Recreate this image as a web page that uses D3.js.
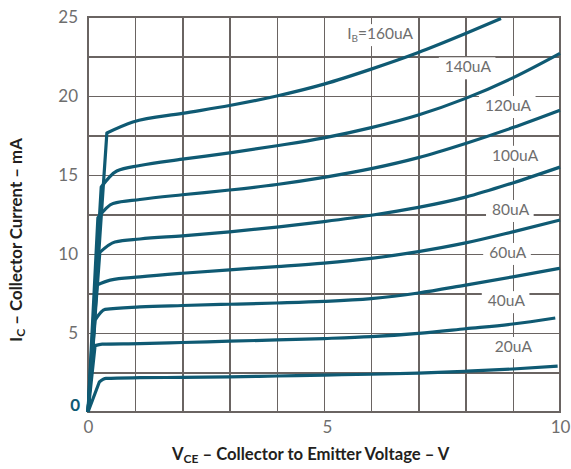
<!DOCTYPE html>
<html>
<head>
<meta charset="utf-8">
<script src="https://cdn.jsdelivr.net/npm/d3@7"></script>
<style>
  html, body { margin: 0; padding: 0; background: #fff; }
  svg { display: block; }
</style>
</head>
<body>
<div id="chart"></div>
<script>
// Collector characteristics: I_C versus V_CE for a family of base currents.
const xTicks = [0, 5, 10];
const yTicks = [5, 10, 15, 20, 25];
const baseLabels = ["20uA", "40uA", "60uA", "80uA", "100uA", "120uA", "140uA", "160uA"];

// Each curve: [V_CE (V), I_C (mA)] pairs, starting at the origin.
const ib20  = [[0,0],[0.24,1.9],[0.38,2.13],[1.1,2.17],[2,2.19],[3,2.22],[4,2.28],[5,2.34],[6,2.39],[7,2.46],[8,2.58],[9,2.72],[9.95,2.9]];
const ib40  = [[0,0],[0.15,4.2],[0.3,4.3],[1.1,4.33],[2,4.4],[3,4.48],[4,4.56],[5,4.65],[6,4.77],[7,4.98],[8,5.27],[9,5.57],[9.9,5.95]];
const ib60  = [[0,0],[0.15,5.82],[0.36,6.5],[1.1,6.65],[2,6.74],[3,6.82],[4,6.9],[5,7.0],[6,7.18],[7,7.53],[8,8.03],[9,8.55],[10,9.1]];
const ib80  = [[0,0],[0.19,8.04],[0.47,8.35],[1.1,8.55],[2,8.78],[3,9.0],[4,9.2],[5,9.42],[6,9.72],[7,10.15],[8,10.7],[9,11.4],[10,12.15]];
const ib100 = [[0,0],[0.25,10.1],[0.57,10.76],[1.1,10.95],[2,11.15],[3,11.4],[4,11.7],[5,12.05],[6,12.45],[7,12.95],[8,13.6],[9,14.5],[10,15.5]];
const ib120 = [[0,0],[0.21,12.3],[0.53,13.2],[1.1,13.45],[2,13.75],[3,14.05],[4,14.4],[5,14.85],[6,15.4],[7,16.1],[8,17.0],[9,18.0],[10,19.1]];
const ib140 = [[0,0],[0.28,14.24],[0.61,15.25],[1.1,15.6],[2,16.0],[3,16.4],[4,16.85],[5,17.35],[6,18.0],[7,18.8],[8,19.85],[9,21.15],[10,22.7]];
const ib160 = [[0,0],[0.40,17.66],[0.95,18.35],[2,18.9],[3,19.4],[4,20.0],[5,20.75],[6,21.7],[7,22.75],[8,23.95],[8.75,24.9]];
const curves = [ib20, ib40, ib60, ib80, ib100, ib120, ib140, ib160];

// Where each base-current label starts (data coordinates, text baseline).
const labelAnchors = [[8.62,3.8],[8.47,6.7],[8.5,9.75],[8.56,12.47],[8.56,15.9],[8.41,19.05],[7.56,21.5],[5.49,23.6]];

const W = 571, H = 469;
const plot = { left: 88, right: 560, top: 17, bottom: 412 };
const lineColor = "#0f5a73";
const gridColor = "#6a6462";
const tickColor = "#6e6e6e";
const titleColor = "#231f20";
const fontFamily = "Lato, 'Open Sans', sans-serif";

const svg = d3.select("#chart").append("svg")
  .attr("width", W).attr("height", H)
  .style("font-family", fontFamily);

const x = d3.scaleLinear().domain([0, 10]).range([plot.left, plot.right]);
const y = d3.scaleLinear().domain([0, 25]).range([plot.bottom, plot.top]);

// Grid: a line every volt and every 2.5 mA.
const grid = svg.append("g");
grid.append("g")
  .attr("transform", `translate(0,${plot.bottom})`)
  .call(d3.axisBottom(x).tickValues(d3.range(0, 11, 1)).tickSize(-(plot.bottom - plot.top)).tickFormat(""))
  .call(g => g.select(".domain").remove());
grid.append("g")
  .attr("transform", `translate(${plot.left},0)`)
  .call(d3.axisLeft(y).tickValues(d3.range(0, 25.01, 2.5)).tickSize(-(plot.right - plot.left)).tickFormat(""))
  .call(g => g.select(".domain").remove());
grid.selectAll(".tick line")
  .attr("stroke", gridColor).attr("stroke-width", 1.5).attr("shape-rendering", "crispEdges");
grid.append("rect")
  .attr("x", plot.left).attr("y", plot.top)
  .attr("width", plot.right - plot.left).attr("height", plot.bottom - plot.top)
  .attr("fill", "none").attr("stroke", gridColor).attr("stroke-width", 1.5)
  .attr("shape-rendering", "crispEdges");

// Tick labels
const xAxis = svg.append("g")
  .attr("transform", `translate(0,${plot.bottom})`)
  .call(d3.axisBottom(x).tickValues(xTicks).tickSize(0).tickPadding(9));
const yAxis = svg.append("g")
  .attr("transform", `translate(${plot.left},0)`)
  .call(d3.axisLeft(y).tickValues(yTicks).tickSize(0).tickPadding(10));
[xAxis, yAxis].forEach(g => {
  g.select(".domain").remove();
  g.selectAll("text").attr("fill", tickColor).style("font-size", "17px").style("font-family", fontFamily);
});
xAxis.selectAll(".tick").filter(d => d === 5).select("text").attr("dx", 3);

// Origin label on the current axis
svg.append("text")
  .attr("x", plot.left - 8).attr("y", y(0) - 5)
  .attr("text-anchor", "end").attr("dominant-baseline", "middle")
  .attr("fill", lineColor).style("font-weight", 700).style("font-size", "17px")
  .text("0");

// Curve labels, each on a white patch that interrupts the grid
const labels = svg.append("g");
baseLabels.forEach((lab, k) => {
  const [lv, li] = labelAnchors[k];
  const g = labels.append("g");
  const bg = g.append("rect").attr("fill", "#fff");
  const t = g.append("text")
    .attr("x", x(lv)).attr("y", y(li))
    .attr("fill", tickColor).style("font-size", "15.5px");
  if (k === baseLabels.length - 1) {
    t.append("tspan").text("I");
    t.append("tspan").attr("dy", 3).style("font-size", "10px").text("B");
    t.append("tspan").attr("dy", -3).text("=" + lab);
  } else {
    t.text(lab);
  }
  const bb = t.node().getBBox();
  bg.attr("x", bb.x - 6).attr("y", y(li) - 15)
    .attr("width", bb.width + 10).attr("height", 22);
});

// Curves: straight rise from the origin to the knee, then a smooth run-out.
const smooth = d3.line().x(d => x(d[0])).y(d => y(d[1])).curve(d3.curveMonotoneX);
svg.append("g").selectAll("path")
  .data(curves)
  .join("path")
  .attr("d", pts => {
    const tail = smooth(pts.slice(1));
    return `M${x(pts[0][0])},${y(pts[0][1])}L` + tail.slice(1);
  })
  .attr("fill", "none")
  .attr("stroke", lineColor)
  .attr("stroke-width", 3.2)
  .attr("stroke-linejoin", "round")
  .attr("stroke-linecap", "butt");

// Axis titles, sized to their spans
function fitText(sel, width) {
  let size = 15;
  sel.style("font-size", size + "px");
  const len = sel.node().getComputedTextLength();
  size = size * width / len;
  sel.style("font-size", size.toFixed(2) + "px");
  sel.selectAll("tspan.sub").style("font-size", (size * 0.72).toFixed(2) + "px");
}

const xTitle = svg.append("text")
  .attr("x", 172).attr("y", 460)
  .attr("fill", titleColor).style("font-weight", 700);
xTitle.append("tspan").text("V");
xTitle.append("tspan").attr("class", "sub").attr("dy", 3).text("CE");
xTitle.append("tspan").attr("dy", -3).text(" \u2013 Collector to Emitter Voltage \u2013 V");
fitText(xTitle, 283);

const yTitle = svg.append("text")
  .attr("transform", "translate(22,240) rotate(-90)")
  .attr("text-anchor", "middle")
  .attr("fill", titleColor).style("font-weight", 700);
yTitle.append("tspan").text("I");
yTitle.append("tspan").attr("class", "sub").attr("dy", 3).text("C");
yTitle.append("tspan").attr("dy", -3).text(" \u2013 Collector Current \u2013 mA");
fitText(yTitle, 207);
</script>
</body>
</html>
